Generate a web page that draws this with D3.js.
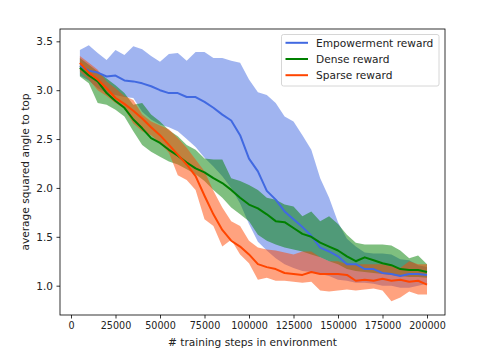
<!DOCTYPE html>
<html>
<head>
<meta charset="utf-8">
<script src="https://cdn.jsdelivr.net/npm/d3@7"></script>
<style>
  body { margin: 0; background: #fff; }
  svg { display: block; font-family: "DejaVu Sans", sans-serif; }
</style>
</head>
<body>
<svg id="chart" width="477" height="354"></svg>
<script>
// training steps (x)
var steps = [5000,10000,15000,20000,25000,30000,35000,40000,45000,50000,
  55000,60000,65000,70000,75000,80000,85000,90000,95000,100000,
  105000,110000,115000,120000,125000,130000,135000,140000,145000,150000,
  155000,160000,165000,170000,175000,180000,185000,190000,195000,200000];

// Empowerment reward
var empMean = [3.25,3.20,3.18,3.14,3.15,3.10,3.09,3.07,3.04,3.00,
  2.97,2.97,2.93,2.93,2.88,2.82,2.75,2.69,2.54,2.30,
  2.17,1.97,1.88,1.76,1.68,1.60,1.51,1.39,1.35,1.30,
  1.22,1.22,1.17,1.17,1.13,1.12,1.10,1.12,1.12,1.11];
var empHi = [3.41,3.46,3.38,3.31,3.41,3.36,3.45,3.42,3.35,3.29,
  3.37,3.38,3.30,3.39,3.39,3.33,3.33,3.30,3.28,3.11,
  2.98,2.95,2.87,2.73,2.68,2.54,2.39,2.10,1.90,1.65,
  1.48,1.40,1.34,1.33,1.33,1.32,1.27,1.26,1.21,1.19];
var empLo = [3.15,3.10,3.02,2.97,2.95,2.93,2.92,2.78,2.70,2.65,
  2.62,2.58,2.50,2.42,2.31,2.22,2.12,2.00,1.84,1.63,
  1.45,1.36,1.28,1.22,1.18,1.15,1.14,1.12,1.10,1.06,
  1.05,1.03,1.03,1.02,1.00,1.00,0.98,0.98,1.00,1.02];

// Dense reward
var denseMean = [3.23,3.15,3.09,2.97,2.89,2.82,2.70,2.61,2.51,2.46,
  2.39,2.33,2.26,2.20,2.16,2.10,2.05,1.98,1.90,1.83,
  1.79,1.73,1.66,1.65,1.59,1.53,1.50,1.44,1.40,1.36,
  1.30,1.25,1.29,1.26,1.23,1.21,1.17,1.16,1.16,1.14];
var denseHi = [3.33,3.26,3.19,3.12,3.05,2.97,2.85,2.87,2.75,2.68,
  2.59,2.53,2.44,2.39,2.30,2.29,2.29,2.10,2.07,2.03,
  1.98,1.90,1.88,1.83,1.81,1.71,1.76,1.66,1.71,1.63,
  1.52,1.44,1.42,1.42,1.42,1.41,1.36,1.28,1.31,1.22];
var denseLo = [3.14,3.07,2.87,2.85,2.80,2.73,2.58,2.44,2.37,2.32,
  2.27,2.24,2.19,2.14,2.07,1.98,1.90,1.80,1.73,1.66,
  1.52,1.46,1.42,1.39,1.37,1.35,1.32,1.29,1.25,1.22,
  1.17,1.15,1.14,1.13,1.12,1.11,1.10,1.09,1.09,1.08];

// Sparse reward
var sparseMean = [3.28,3.18,3.11,3.02,2.92,2.86,2.79,2.71,2.62,2.54,
  2.44,2.34,2.24,2.12,1.92,1.73,1.57,1.46,1.40,1.32,
  1.22,1.19,1.17,1.13,1.12,1.11,1.14,1.12,1.12,1.12,
  1.11,1.05,1.06,1.05,1.07,1.05,1.06,1.04,1.05,1.01];
var sparseHi = [3.35,3.28,3.21,3.09,3.02,2.94,2.90,2.75,2.68,2.64,
  2.60,2.51,2.41,2.29,2.17,1.97,1.80,1.66,1.61,1.46,
  1.39,1.37,1.36,1.34,1.32,1.35,1.35,1.29,1.25,1.25,
  1.22,1.22,1.22,1.22,1.22,1.20,1.18,1.25,1.22,1.22];
var sparseLo = [3.19,3.11,3.00,2.94,2.87,2.81,2.66,2.58,2.54,2.46,
  2.36,2.13,2.08,1.98,1.68,1.61,1.40,1.47,1.32,1.23,
  1.06,1.08,1.05,1.05,1.04,1.03,1.04,0.95,0.94,0.95,
  0.96,0.95,0.96,0.97,0.95,0.84,0.88,0.94,0.91,0.91];

var seriesNames = ["Empowerment reward", "Dense reward", "Sparse reward"];
var colors = ["#4169e1", "#008000", "#ff4500"];
var xTicks = [0, 25000, 50000, 75000, 100000, 125000, 150000, 175000, 200000];
var yTicks = [1.0, 1.5, 2.0, 2.5, 3.0, 3.5];

var margin = {top: 29, right: 32, bottom: 39, left: 60};
var width = 477 - margin.left - margin.right;
var height = 354 - margin.top - margin.bottom;

var svg = d3.select("#chart");
var g = svg.append("g").attr("transform", "translate(" + margin.left + "," + margin.top + ")");

var x = d3.scaleLinear().domain([-6180, 210110]).range([0, width]);
var y = d3.scaleLinear().domain([0.70, 3.626]).range([height, 0]);

var series = [
  {mean: empMean, lo: empLo, hi: empHi},
  {mean: denseMean, lo: denseLo, hi: denseHi},
  {mean: sparseMean, lo: sparseLo, hi: sparseHi}
];

var area = function(s) {
  return d3.area()
    .x(function(d, i) { return x(steps[i]); })
    .y0(function(d, i) { return y(s.lo[i]); })
    .y1(function(d, i) { return y(s.hi[i]); })(s.mean);
};
var line = d3.line()
  .x(function(d, i) { return x(steps[i]); })
  .y(function(d) { return y(d); });

// bands
series.forEach(function(s, k) {
  g.append("path")
    .attr("d", area(s))
    .attr("fill", colors[k])
    .attr("fill-opacity", 0.5)
    .attr("stroke", "none");
});

// mean lines
series.forEach(function(s, k) {
  g.append("path")
    .attr("d", line(s.mean))
    .attr("fill", "none")
    .attr("stroke", colors[k])
    .attr("stroke-width", 2)
    .attr("stroke-linejoin", "round");
});

// axes
var xAxis = g.append("g")
  .attr("transform", "translate(0," + height + ")")
  .call(d3.axisBottom(x).tickValues(xTicks).tickSize(3.5).tickPadding(3.5).tickFormat(d3.format("d")));
var yAxis = g.append("g")
  .call(d3.axisLeft(y).tickValues(yTicks).tickSize(3.5).tickPadding(3.5).tickFormat(d3.format(".1f")));

[xAxis, yAxis].forEach(function(a) {
  a.select(".domain").remove();
  a.selectAll(".tick line").attr("stroke", "#000").attr("stroke-width", 0.8);
  a.selectAll(".tick text").attr("fill", "#222").style("font-family", "DejaVu Sans");
});
xAxis.selectAll(".tick text").style("font-size", "9.6px");
yAxis.selectAll(".tick text").style("font-size", "10.5px");

// frame
g.append("rect")
  .attr("width", width)
  .attr("height", height)
  .attr("fill", "none")
  .attr("stroke", "#000")
  .attr("stroke-width", 0.8);

// axis labels
svg.append("text")
  .attr("x", margin.left + width / 2)
  .attr("y", 346)
  .attr("text-anchor", "middle")
  .attr("fill", "#222")
  .style("font-size", "10.6px")
  .text("# training steps in environment");

svg.append("text")
  .attr("transform", "translate(29," + (margin.top + height / 2) + ") rotate(-90)")
  .attr("text-anchor", "middle")
  .attr("fill", "#222")
  .style("font-size", "10.6px")
  .text("average squared angle to top");

// legend
var legend = g.append("g").attr("transform", "translate(" + (281.5 - margin.left) + "," + (34.5 - margin.top) + ")");
legend.append("rect")
  .attr("width", 157.5)
  .attr("height", 51.5)
  .attr("rx", 2)
  .attr("fill", "#fff")
  .attr("fill-opacity", 0.8)
  .attr("stroke", "#ccc")
  .attr("stroke-width", 0.8);

var items = legend.selectAll(".item")
  .data(seriesNames)
  .enter().append("g")
    .attr("class", "item")
    .attr("transform", function(d, i) { return "translate(0," + (8.3 + i * 16.2) + ")"; });

items.append("line")
  .attr("x1", 4).attr("x2", 26.5)
  .attr("stroke", function(d, i) { return colors[i]; })
  .attr("stroke-width", 2);

items.append("text")
  .attr("x", 34.5)
  .attr("dy", "0.35em")
  .attr("fill", "#222")
  .style("font-size", "10.6px")
  .text(function(d) { return d; });
</script>
</body>
</html>
